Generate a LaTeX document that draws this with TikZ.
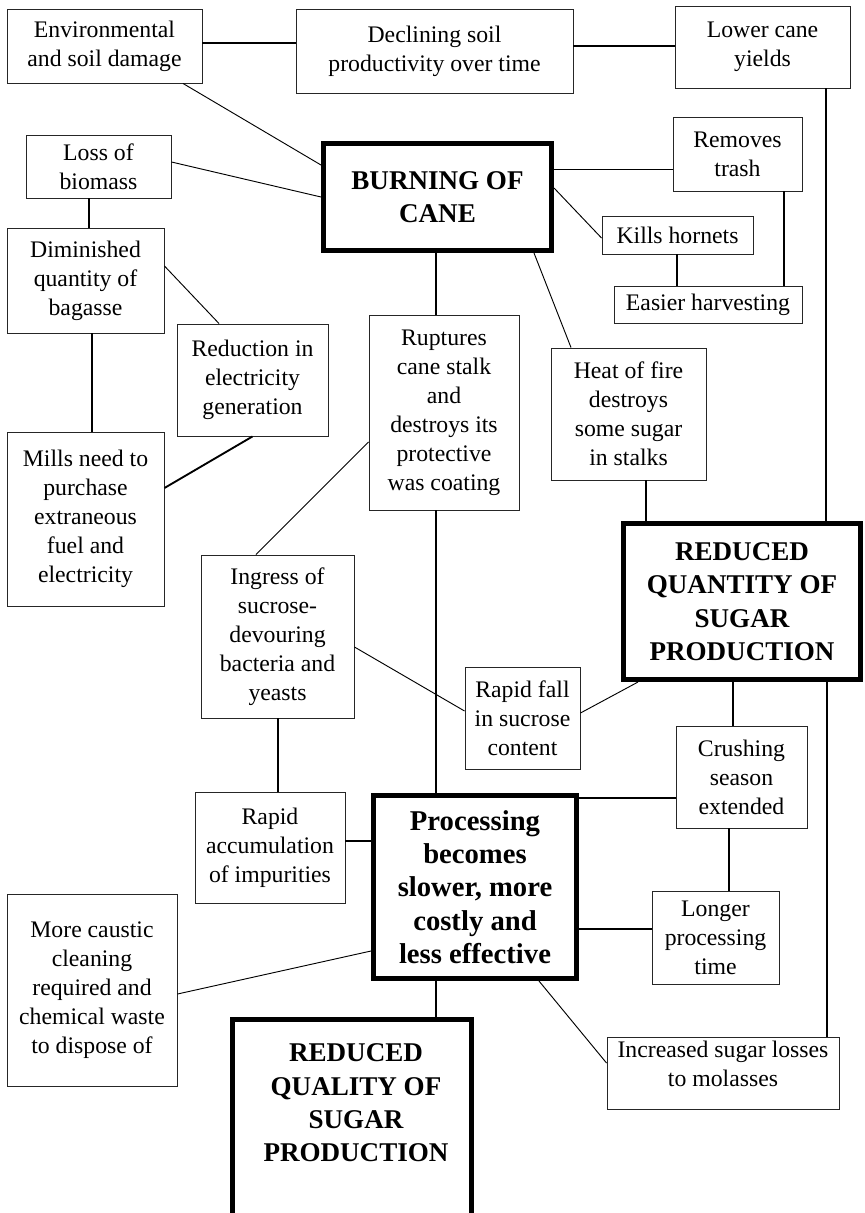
\documentclass[tikz,border=0pt]{standalone}
\usepackage{fontspec}
\setmainfont{Liberation Serif}
\usetikzlibrary{calc}
\newcommand\myreg{\fontsize{17.8pt}{21.75pt}\selectfont}
\newcommand\mybold{\fontsize{20.3pt}{25pt}\selectfont\bfseries}
\newcommand\myproc{\fontsize{21.5pt}{25pt}\selectfont\bfseries}
\tikzset{
  box/.style={draw=black!85, line width=0.7pt, inner sep=0pt, align=center, font=\myreg},
  tbox/.style={draw=black, line width=3.4pt, inner sep=0pt, align=center, font=\mybold},
  thk/.style={line width=1.4pt},
  thn/.style={line width=0.7pt},
}
\begin{document}
\begin{tikzpicture}[x=0.75pt,y=-0.75pt]
\path[use as bounding box, fill=white] (0,0) rectangle (864,1213);
\clip (0,0) rectangle (864,1213);
% boxes
\node[box, minimum width=195*.75pt, minimum height=74*.75pt] (env) at (104.5,46) {Environmental\\and soil damage};
\node[box, minimum width=277*.75pt, minimum height=84*.75pt] (decl) at (434.5,51) {Declining soil\\productivity over time};
\node[box, minimum width=175*.75pt, minimum height=82*.75pt] (lower) at (762.5,47) {Lower cane\\yields};
\node[box, minimum width=145*.75pt, minimum height=63*.75pt] (loss) at (98.5,166.5) {Loss of\\biomass};
\node[tbox, minimum width=228.5*.75pt, minimum height=107.5*.75pt] (burn) at (437.5,197) {BURNING OF\\CANE};
\node[box, minimum width=129*.75pt, minimum height=74*.75pt] (removes) at (737.5,154) {Removes\\trash};
\node[box, minimum width=151*.75pt, minimum height=38*.75pt] (kills) at (677.5,235) {Kills hornets};
\node[box, minimum width=188*.75pt, minimum height=37*.75pt] (easier) at (708,304.5) {Easier harvesting};
\node[box, minimum width=157*.75pt, minimum height=105*.75pt] (dimin) at (85.5,280.5) {Diminished\\quantity of\\bagasse};
\node[box, minimum width=151*.75pt, minimum height=112*.75pt] (reduc) at (252.5,380) {Reduction in\\electricity\\generation};
\node[box, minimum width=157*.75pt, minimum height=174*.75pt] (mills) at (85.5,519) {Mills need to\\purchase\\extraneous\\fuel and\\electricity};
\node[box, minimum width=150*.75pt, minimum height=195*.75pt] (rupt) at (444,412.5) {Ruptures\\cane stalk\\and\\destroys its\\protective\\was coating};
\node[box, minimum width=155*.75pt, minimum height=132*.75pt] (heat) at (628.5,414) {Heat of fire\\destroys\\some sugar\\in stalks};
\node[tbox, minimum width=237.5*.75pt, minimum height=156.5*.75pt] (redq) at (742,601.5) {REDUCED\\QUANTITY OF\\SUGAR\\PRODUCTION};
\node[box, minimum width=153*.75pt, minimum height=163*.75pt] (ingress) at (277.5,636.5) {Ingress of\\sucrose-\\devouring\\bacteria and\\yeasts};
\node[box, minimum width=115*.75pt, minimum height=102*.75pt] (fall) at (522.5,718) {Rapid fall\\in sucrose\\content};
\node[box, minimum width=150*.75pt, minimum height=111*.75pt] (acc) at (270,847.5) {Rapid\\accumulation\\of impurities};
\node[box, minimum width=131*.75pt, minimum height=102*.75pt] (crush) at (741.5,777) {Crushing\\season\\extended};
\node[tbox, font=\myproc, minimum width=203.5*.75pt, minimum height=183.5*.75pt] (proc) at (475,887) {Processing\\becomes\\slower, more\\costly and\\less effective};
\node[box, minimum width=127*.75pt, minimum height=93*.75pt] (longer) at (715.5,937.5) {Longer\\processing\\time};
\node[box, minimum width=170*.75pt, minimum height=192*.75pt] (caustic) at (92,990) {More caustic\\cleaning\\required and\\chemical waste\\to dispose of};
\node[tbox, minimum width=239.5*.75pt, minimum height=220.75*.75pt] (redqual) at (352,1129.6) {};
\node[font=\mybold, align=center] (redqualt) at (356,1103) {REDUCED\\QUALITY OF\\SUGAR\\PRODUCTION};
\node[box, minimum width=232*.75pt, minimum height=72*.75pt] (incr) at (723,1073) {};
\node[font=\myreg, align=center] (incrt) at (723,1064) {Increased sugar losses\\to molasses};
% connectors
\draw[thk] ($(env.east)+(0,-3)$) -- ($(decl.west)+(0,-8)$);
\draw[thk] ($(decl.east)+(0,-5)$) -- ($(lower.west)+(0,-1)$);
\draw[thn] ($(env.south)+(78.5,0)$) -- ($(burn.west)+(0,-32)$);
\draw[thn] ($(loss.east)+(0,-4.5)$) -- (burn.west);
\draw[thk] ($(loss.south)+(-9.5,0)$) -- ($(dimin.north)+(3.5,0)$);
\draw[thn] ($(dimin.east)+(0,-14.5)$) -- ($(reduc.north)+(-33.5,0)$);
\draw[thk] ($(dimin.south)+(6.5,0)$) -- ($(mills.north)+(6.5,0)$);
\draw[thk] (reduc.south) -- ($(mills.east)+(0,-31)$);
\draw[thn] ($(burn.east)+(0,-28)$) -- ($(removes.west)+(0,15)$);
\draw[thn] ($(burn.east)+(0,-9)$) -- ($(kills.west)+(0,3)$);
\draw[thk] ($(kills.south)+(-0.5,0)$) -- ($(easier.north)+(-31,0)$);
\draw[thk] ($(removes.south)+(46.5,0)$) -- ($(easier.north)+(76,0)$);
\draw[thk] ($(lower.south)+(63.5,0)$) -- ($(redq.north)+(84,0)$);
\draw[thk] ($(burn.south)+(-1.5,0)$) -- ($(rupt.north)+(-8,0)$);
\draw[thn] ($(burn.south)+(96.5,0)$) -- ($(heat.north)+(-57.5,0)$);
\draw[thk] ($(heat.south)+(17.5,0)$) -- ($(redq.north)+(-96,0)$);
\draw[thn] ($(rupt.west)+(0,29.5)$) -- ($(ingress.north)+(-21.5,0)$);
\draw[thk] ($(rupt.south)+(-8,0)$) -- ($(proc.north)+(-39,0)$);
\draw[thn] ($(ingress.east)+(0,10.5)$) -- ($(fall.west)+(0,-7)$);
\draw[thn] ($(fall.east)+(0,-5)$) -- ($(redq.south)+(-104,0)$);
\draw[thk] ($(ingress.south)+(0.5,0)$) -- ($(acc.north)+(8,0)$);
\draw[thk] ($(acc.east)+(0,-6.5)$) -- ($(proc.west)+(0,-46)$);
\draw[thk] ($(redq.south)+(-9,0)$) -- ($(crush.north)+(-8.5,0)$);
\draw[thk] ($(proc.east)+(0,-89)$) -- ($(crush.west)+(0,21)$);
\draw[thk] ($(crush.south)+(-12.5,0)$) -- ($(longer.north)+(13.5,0)$);
\draw[thk] ($(proc.east)+(0,42)$) -- ($(longer.west)+(0,-8.5)$);
\draw[thn] ($(proc.west)+(0,64)$) -- ($(caustic.east)+(0,4)$);
\draw[thk] ($(proc.south)+(-39,0)$) -- ($(redqual.north)+(84,0)$);
\draw[thn] ($(proc.south)+(64,0)$) -- ($(incr.west)+(0,-10)$);
\draw[thk] ($(redq.south)+(85,0)$) -- ($(incr.north)+(104,0)$);
\end{tikzpicture}
\end{document}
